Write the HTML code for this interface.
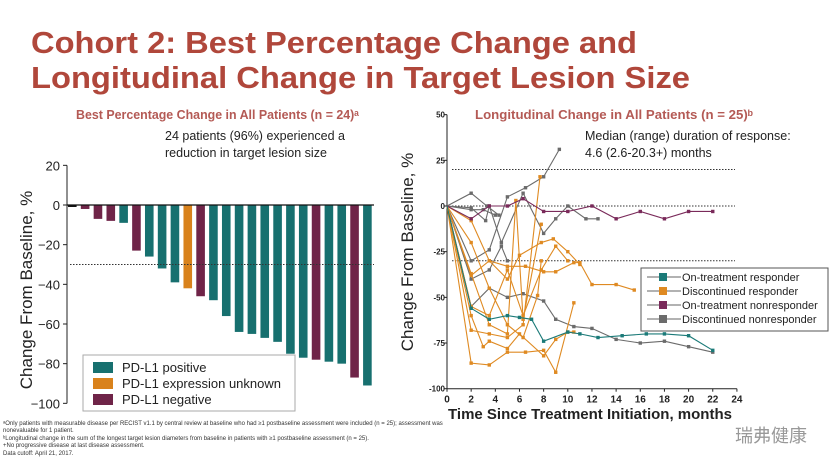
<!DOCTYPE html>
<html><head><meta charset="utf-8">
<style>
body{margin:0;width:830px;height:468px;background:#fff;overflow:hidden;font-family:"Liberation Sans","Noto Sans CJK SC",sans-serif;}
svg{position:absolute;left:0;top:0}
</style></head>
<body>
<svg id="s" width="830" height="468" viewBox="0 0 830 468">
<text x="31" y="53" font-size="31" font-weight="bold" fill="#b0473b" textLength="606" lengthAdjust="spacingAndGlyphs">Cohort 2: Best Percentage Change and</text>
<text x="31" y="88" font-size="31" font-weight="bold" fill="#b0473b" textLength="659" lengthAdjust="spacingAndGlyphs">Longitudinal Change in Target Lesion Size</text>
<text x="76" y="119" font-size="13" font-weight="bold" fill="#b45a55" textLength="283" lengthAdjust="spacingAndGlyphs">Best Percentage Change in All Patients (n = 24)ᵃ</text>
<text x="165" y="140" font-size="12.5" fill="#222">24 patients (96%) experienced a</text>
<text x="165" y="157" font-size="12.5" fill="#222">reduction in target lesion size</text>
<text transform="translate(32,290) rotate(-90)" text-anchor="middle" font-size="17" fill="#222">Change From Baseline, %</text>
<text x="475" y="119" font-size="13" font-weight="bold" fill="#b45a55" textLength="278" lengthAdjust="spacingAndGlyphs">Longitudinal Change in All Patients (n = 25)ᵇ</text>
<text x="585" y="140" font-size="12.5" fill="#222">Median (range) duration of response:</text>
<text x="585" y="157" font-size="12.5" fill="#222">4.6 (2.6-20.3+) months</text>
<text transform="translate(413,252) rotate(-90)" text-anchor="middle" font-size="17" fill="#222">Change From Baseline, %</text>
<text x="590" y="419" text-anchor="middle" font-size="15" font-weight="bold" fill="#222">Time Since Treatment Initiation, months</text>
<g font-size="6" fill="#333">
<text x="3" y="425">ᵃOnly patients with measurable disease per RECIST v1.1 by central review at baseline who had ≥1 postbaseline assessment were included (n = 25); assessment was</text>
<text x="3" y="432">nonevaluable for 1 patient.</text>
<text x="3" y="440">ᵇLongitudinal change in the sum of the longest target lesion diameters from baseline in patients with ≥1 postbaseline assessment (n = 25).</text>
<text x="3" y="447">+No progressive disease at last disease assessment.</text>
<text x="3" y="455">Data cutoff: April 21, 2017.</text>
</g>
<text x="735" y="442" font-size="18" fill="#999">瑞弗健康</text>
<g id="left"></g>
<g id="right"></g>
</svg>
<script>
const NS="http://www.w3.org/2000/svg";
function mk(parent,tag,attrs){const e=document.createElementNS(NS,tag);for(const k in attrs)e.setAttribute(k,attrs[k]);parent.appendChild(e);return e;}
// Left chart data
const barValues=[-1,-2,-7,-8,-9,-23,-26,-32,-39,-42,-46,-48,-56,-64,-65,-67,-69,-75,-77,-78,-79,-80,-87,-91];
const barGroups=["k","n","n","n","p","n","p","p","p","u","n","p","p","p","p","p","p","p","p","n","p","p","n","p"];
const leftTicks=[20,0,-20,-40,-60,-80,-100];
const colors={p:"#17706f",u:"#d9821c",n:"#6f2448",k:"#111"};
const L=document.getElementById('left');
const ly=v=>205-(v)*(238/120);
const lx=i=>68+i*12.83;
mk(L,'line',{x1:67,y1:ly(20),x2:67,y2:ly(-100),stroke:'#222','stroke-width':1});
leftTicks.forEach(t=>{
 mk(L,'line',{x1:63,y1:ly(t),x2:67,y2:ly(t),stroke:'#222'});
 const tx=mk(L,'text',{x:60,y:ly(t)+5,'text-anchor':'end','font-size':13,fill:'#222'});tx.textContent=t<0?'\u2212'+(-t):t;
 
 
});
barValues.forEach((v,i)=>{
 const r=mk(L,'rect',{x:lx(i),y:ly(0),width:8.6,height:Math.max(ly(v)-ly(0),1.5),fill:colors[barGroups[i]]});
 
 
});
mk(L,'line',{x1:67,y1:ly(0),x2:374,y2:ly(0),stroke:'#111','stroke-width':1.2});
mk(L,'line',{x1:70,y1:ly(-30),x2:374,y2:ly(-30),stroke:'#333','stroke-dasharray':'1.5,1.5'});
const lg=mk(L,'g',{});


mk(lg,'rect',{x:83,y:355,width:212,height:56,fill:'#fff',stroke:'#aaa'});
[["PD-L1 positive","p"],["PD-L1 expression unknown","u"],["PD-L1 negative","n"]].forEach((e,i)=>{
 mk(lg,'rect',{x:93,y:362+i*16,width:20,height:11,fill:colors[e[1]]});
 const t=mk(lg,'text',{x:122,y:372+i*16,'font-size':13,fill:'#222'});t.textContent=e[0];
 
 
});
// Right chart data
const months=[0,2,4,6,8,10,12,14,16,18,20,22,24];
const rightTicks=[50,25,0,-25,-50,-75,-100];
const seriesTeal=[[0,0],[2,-56],[3.5,-62],[5,-60],[6,-61],[7,-62],[8,-74],[10,-69],[11,-70],[12.5,-72],[14.5,-71],[16.5,-70],[18,-70],[20,-71],[22,-79]];
const seriesPurple=[[0,0],[2,-7],[3.5,0],[5,0],[6.3,4],[8,-3],[10,-3],[12,0],[14,-7],[16,-3],[18,-7],[20,-3],[22,-3]];
const seriesGray=[
 [[0,0],[2,7],[3.3,0],[4.3,-5]],
 [[0,0],[2,-30],[3.5,-24],[5,5],[6.5,10],[8,16],[9.3,31]],
 [[0,0],[2,-55],[3.5,-45],[5,-50],[6.3,-48],[8,-52],[9,-62],[10.5,-66],[12,-67],[14,-73],[16,-75],[18,-74],[20,-77],[22,-80]],
 [[0,0],[2,-1],[3.2,-8],[3.5,0],[4.5,-20],[6.3,7],[8,-15],[9,-7],[10,0],[11.5,-7],[12.5,-7]],
 [[0,0],[2,-2],[3,-2],[4,-5]],
 [[0,0],[2,-40],[3.5,-35],[4.5,-22],[5,-30]]
];
const seriesOrange=[
 [[0,0],[2,-8],[3.5,-30],[5,-33],[6.5,-33],[8,-36],[9,-36],[10.5,-31],[11,-31],[12,-43],[14,-43],[15.5,-46]],
 [[0,0],[2,-86],[3.5,-87],[5,-80],[6.5,-80],[8,-79],[9,-91],[10.5,-53]],
 [[0,0],[2,-60],[3,-77],[3.5,-74],[5,-78],[6,-70],[8,-82],[9,-73],[10,-69],[10.5,-69]],
 [[0,0],[2,-68],[3.5,-70],[5,-72],[6.3,-65],[7.7,16]],
 [[0,0],[2,-37],[3.5,-65],[5,-70],[5.7,3],[6.3,-62],[7.8,-10]],
 [[0,0],[2,-38],[3.5,-30],[5,-40],[6,-27],[7.8,-20],[8.8,-18],[10,-25],[11,-32]],
 [[0,0],[2,-20],[3.5,-45],[5,-65],[6.3,-72],[7.5,-49],[7.8,-30]],
 [[0,0],[2,-55],[3.5,-60],[5,-35],[6.3,-60],[7.8,-35],[9,-22],[10,-30]]
];
const R=document.getElementById('right');
const rx=m=>447+m*12.08;
const ry=v=>206-v*1.827;
mk(R,'line',{x1:447,y1:ry(50),x2:447,y2:ry(-100),stroke:'#222'});
mk(R,'line',{x1:447,y1:ry(-100),x2:rx(24),y2:ry(-100),stroke:'#222'});
rightTicks.forEach(t=>{
 mk(R,'line',{x1:444,y1:ry(t),x2:447,y2:ry(t),stroke:'#222'});
 const tx=mk(R,'text',{x:445,y:ry(t)+3,'text-anchor':'end','font-size':8,'font-weight':'bold',fill:'#222'});tx.textContent=t;
 
 
});
months.forEach(m=>{
 mk(R,'line',{x1:rx(m),y1:ry(-100),x2:rx(m),y2:ry(-100)+3,stroke:'#222'});
 const tx=mk(R,'text',{x:rx(m),y:ry(-100)+14,'text-anchor':'middle','font-size':10,'font-weight':'bold',fill:'#222'});tx.textContent=m;
 
 
});
[20,0,-30].forEach(v=>mk(R,'line',{x1:452,y1:ry(v),x2:735,y2:ry(v),stroke:'#333','stroke-dasharray':'1.5,1.5'}));
function drawSeries(pts,col,name){
 const g=mk(R,'g',{});
 
 
 mk(g,'polyline',{points:pts.map(p=>rx(p[0])+','+ry(p[1])).join(' '),fill:'none',stroke:col,'stroke-width':1.1});
 pts.slice(1).forEach(p=>mk(g,'rect',{x:rx(p[0])-1.7,y:ry(p[1])-1.7,width:3.4,height:3.4,fill:col}));
}
seriesGray.forEach((s,i)=>drawSeries(s,'#6b6b6b','discontinued-nonresponder-line-'+(i+1)));
seriesOrange.forEach((s,i)=>drawSeries(s,'#df8a22','discontinued-responder-line-'+(i+1)));
drawSeries(seriesPurple,'#7a2a5a','on-treatment-nonresponder-line');
drawSeries(seriesTeal,'#1b7a78','on-treatment-responder-line');
const rg=mk(R,'g',{});


mk(rg,'rect',{x:641,y:268,width:187,height:63,fill:'#fff',stroke:'#555'});
[["On-treatment responder","#1b7a78"],["Discontinued responder","#df8a22"],["On-treatment nonresponder","#7a2a5a"],["Discontinued nonresponder","#6b6b6b"]].forEach((e,i)=>{
 const y=277+i*14;
 mk(rg,'line',{x1:647,y1:y,x2:681,y2:y,stroke:'#666'});
 mk(rg,'rect',{x:659,y:y-4,width:8,height:8,fill:e[1]});
 const t=mk(rg,'text',{x:682,y:y+4,'font-size':11,fill:'#222'});t.textContent=e[0];
 
 
});
</script>
</body></html>
